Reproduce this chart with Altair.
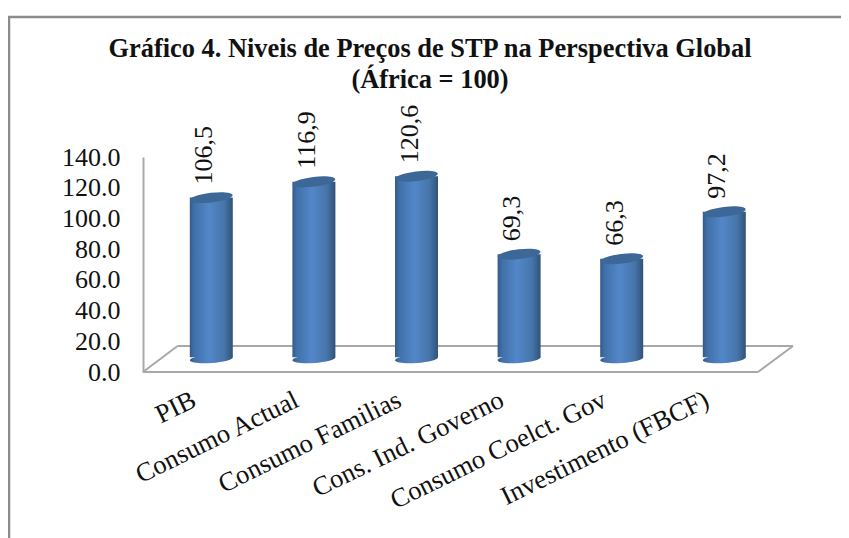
import altair as alt
import pandas as pd

categories = ["PIB", "Consumo Actual", "Consumo Familias", "Cons. Ind. Governo", "Consumo Coelct. Gov", "Investimento (FBCF)"]
values = [106.5, 116.9, 120.6, 69.3, 66.3, 97.2]
value_labels = ["106,5", "116,9", "120,6", "69,3", "66,3", "97,2"]
title_lines = ["Gráfico 4. Niveis de Preços de STP na Perspectiva Global", "(África = 100)"]
y_ticks = [0, 20, 40, 60, 80, 100, 120, 140]

df = pd.DataFrame({"cat": categories, "v": values, "lab": value_labels, "zero": [0] * 6, "base": [1.5] * 6})

SERIF = "Liberation Serif"
GRAY = "#a8a8a8"
FRAME = "#8c8c8c"

x_enc = alt.X("cat:N", sort=categories, title=None,
              scale=alt.Scale(domain=categories, range=[17, 632.6], paddingInner=0, paddingOuter=0),
              axis=alt.Axis(labelAngle=334, labelAlign="right", labelBaseline="middle", labelFont=SERIF,
                            labelFontSize=26.5, labelColor="#111111", labelPadding=26, labelOffset=-17,
                            labelLimit=500, labelOverlap=False, labelBound=False, labelFlush=False,
                            domain=False, ticks=False, grid=False))
x_plain = alt.X("cat:N", sort=categories, title=None,
                scale=alt.Scale(domain=categories, range=[17, 632.6], paddingInner=0, paddingOuter=0))

bar_scale = alt.Scale(domain=[0, 140], range=[202.5, -10.3])
axis_scale = alt.Scale(domain=[0, 140], range=[215, 0])

body = alt.Gradient(gradient="linear", x1=0, x2=1, y1=0, y2=0, stops=[
    alt.GradientStop(offset=0, color="#34598a"),
    alt.GradientStop(offset=0.1, color="#4070a8"),
    alt.GradientStop(offset=0.45, color="#5387c9"),
    alt.GradientStop(offset=0.8, color="#4675aa"),
    alt.GradientStop(offset=1, color="#315376"),
])
TOP_ELLIPSE = "M-0.993,0.122 A1,0.225,-7,1,1,0.993,-0.122 A1,0.225,-7,1,1,-0.993,0.122 Z"
BOTTOM_ELLIPSE = "M-0.998,0.07 A1,0.2,-4,1,1,0.998,-0.07 A1,0.2,-4,1,1,-0.998,0.07 Z"
SIZE = 43 * 43


def deco(x, y, x2, y2, color=GRAY, w=2):
    return alt.Chart(df.head(1)).mark_rule(color=color, strokeWidth=w).encode(
        x=alt.value(x), y=alt.value(y), x2=alt.value(x2), y2=alt.value(y2))


frame_top = deco(-135, -140, 698, -140, FRAME, 2.5)
frame_left = deco(-134, -140, -134, 381, FRAME, 2.5)
floor_front = deco(0, 215, 615, 215)
floor_back = deco(34.5, 189, 650, 189)
floor_left = deco(0, 215, 34.5, 189)
floor_right = deco(615, 215, 650, 189)

axis_layer = alt.Chart(df).mark_point(opacity=0).encode(
    y=alt.Y("v:Q", scale=axis_scale, title=None,
            axis=alt.Axis(values=y_ticks, format=".1f", labelFont=SERIF, labelFontSize=26, labelColor="#111111",
                          labelPadding=23, ticks=False, grid=False, domainColor=GRAY, domainWidth=2,
                          labelOverlap=False, labelBound=False, labelFlush=False)))

bars = alt.Chart(df).mark_bar(size=43, fill=body, stroke=None).encode(
    x=x_enc, y=alt.Y("v:Q", scale=bar_scale, axis=None), y2="base:Q")
bottoms = alt.Chart(df).mark_point(shape=BOTTOM_ELLIPSE, size=SIZE, filled=True, fill=body, opacity=1, yOffset=-0.8).encode(
    x=x_plain, y=alt.Y("zero:Q", scale=bar_scale, axis=None))
tops = alt.Chart(df).mark_point(shape=TOP_ELLIPSE, size=SIZE, filled=True, fill="#3c6796", opacity=1).encode(
    x=x_plain, y=alt.Y("v:Q", scale=bar_scale, axis=None))
labels = alt.Chart(df).mark_text(font=SERIF, fontSize=26, angle=270, align="left", baseline="middle",
                                 color="#111111", dx=13, dy=-7).encode(
    x=x_plain, y=alt.Y("v:Q", scale=bar_scale, axis=None), text="lab:N")

chart = alt.layer(frame_top, frame_left, floor_back, floor_front, floor_left, floor_right,
                  axis_layer, bottoms, bars, tops, labels).resolve_scale(y="independent").properties(
    width=650, height=215,
    padding={"left": 135, "top": 149, "right": 48, "bottom": 166},
    autosize=alt.AutoSizeParams(type="none"),
    background="white",
    title=alt.TitleParams(text=title_lines, font=SERIF, fontSize=26.4, fontWeight="bold", color="#111111",
                          anchor="middle", frame="group", lineHeight=31, dx=-38, offset=-78),
).configure_view(stroke=None)

chart.save("out.html", embed_options={"renderer": "svg", "actions": False})
